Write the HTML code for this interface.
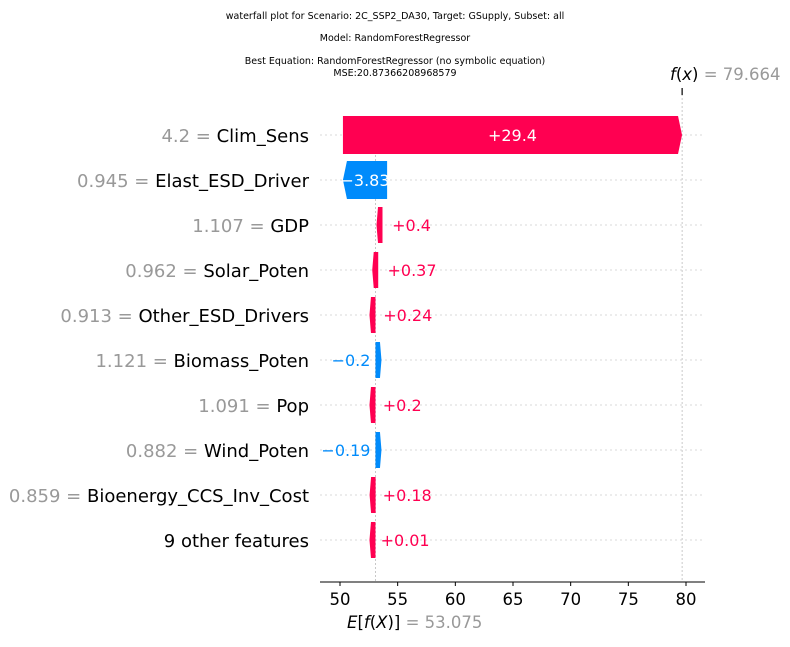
<!DOCTYPE html>
<html><head><meta charset="utf-8"><style>
body{margin:0;background:#fff;width:790px;height:642px;overflow:hidden}
svg{font-family:"DejaVu Sans","Liberation Sans",sans-serif}
</style></head><body>
<svg id="chart" width="790" height="642">
<text x="395" y="19" font-size="9.5" text-anchor="middle">waterfall plot for Scenario: 2C_SSP2_DA30, Target: GSupply, Subset: all</text>
<text x="395" y="41" font-size="9.5" text-anchor="middle">Model: RandomForestRegressor</text>
<text x="395" y="64" font-size="9.5" text-anchor="middle">Best Equation: RandomForestRegressor (no symbolic equation)</text>
<text x="395" y="76" font-size="9.5" text-anchor="middle">MSE:20.87366208968579</text>
<g id="plot"></g>
</svg>
<script>
const features=["Clim_Sens","Elast_ESD_Driver","GDP","Solar_Poten","Other_ESD_Drivers","Biomass_Poten","Pop","Wind_Poten","Bioenergy_CCS_Inv_Cost","9 other features"];
const featureValues=["4.2","0.945","1.107","0.962","0.913","1.121","1.091","0.882","0.859",""];
const shapValues=[29.4,-3.83,0.4,0.37,0.24,-0.2,0.2,-0.19,0.18,0.01];
const valueLabels=["+29.4","\u22123.83","+0.4","+0.37","+0.24","\u22120.2","+0.2","\u22120.19","+0.18","+0.01"];
const baseValue=53.075;
const fx=79.664;
const xTicks=[50,55,60,65,70,75,80];

const NS="http://www.w3.org/2000/svg";
const g=document.getElementById('plot');
const X=v=>340+(v-50)*(346/30);
const Y=i=>135+i*45;
function el(t,a,txt){const e=document.createElementNS(NS,t);for(const k in a)e.setAttribute(k,a[k]);if(txt!==undefined)e.textContent=txt;g.appendChild(e);return e;}
const RED="#ff0051",BLUE="#008bfb";
features.forEach((f,i)=>{
  const l=el('line',{x1:320,x2:705,y1:Y(i),y2:Y(i),stroke:'#ccc','stroke-dasharray':'2,3','stroke-width':0.8});
  
  
});
let vl=el('line',{x1:X(baseValue),x2:X(baseValue),y1:155,y2:582,stroke:'#bbb','stroke-dasharray':'2,2','stroke-width':0.8});

vl=el('line',{x1:X(fx),x2:X(fx),y1:90,y2:582,stroke:'#bbb','stroke-dasharray':'2,2','stroke-width':0.8});

el('line',{x1:X(fx),x2:X(fx),y1:88,y2:95,stroke:'#000','stroke-width':1.2});
let cum=baseValue;const starts=[];
for(let i=features.length-1;i>=0;i--){starts[i]=cum;cum+=shapValues[i];}
const H=19,HL=6;
features.forEach((f,i)=>{
  const v=shapValues[i],x0=X(starts[i]),x1=X(starts[i]+v),y=Y(i);
  const s=v>=0?1:-1,w=Math.abs(x1-x0),col=v>=0?RED:BLUE;
  let pts;
  if(w>HL*2){
    const hl=4,b=x1-s*hl;
    pts=[[x0,y-H],[b,y-H],[x1,y],[b,y+H],[x0,y+H]];
  }else if(v>=0){
    const fl=x0,t=x0-HL;
    pts=[[fl,y-H+1],[t+1.5,y-H+1],[t,y],[t+1.5,y+H-1],[fl,y+H-1]];
  }else{
    const fl=x1,t=x1+HL;
    pts=[[fl,y-H+1],[t-1.5,y-H+1],[t,y],[t-1.5,y+H-1],[fl,y+H-1]];
  }
  const p=el('polygon',{points:pts.map(q=>q.join(',')).join(' '),fill:col});
  
  
  let t;
  if(w>30){
    t=el('text',{x:(x0+x1)/2,y:y+6,'font-size':16,fill:'#fff','text-anchor':'middle'},valueLabels[i]);
  }else if(v>=0){
    t=el('text',{x:x1+5,y:y+6,'font-size':16,fill:col},valueLabels[i]);
  }else{
    t=el('text',{x:x1-5,y:y+6,'font-size':16,fill:col,'text-anchor':'end'},valueLabels[i]);
  }
  
  
  const lab=el('text',{x:309,y:y+7,'font-size':18,'text-anchor':'end'});
  
  
  if(featureValues[i]){const a=document.createElementNS(NS,'tspan');a.setAttribute('fill','#999');a.textContent=featureValues[i]+' = ';lab.appendChild(a);}
  const b=document.createElementNS(NS,'tspan');b.setAttribute('fill','#000');b.textContent=f;lab.appendChild(b);
});
const ax=el('line',{x1:320,x2:705,y1:582,y2:582,stroke:'#000','stroke-width':1});

xTicks.forEach(v=>{
  el('line',{x1:X(v),x2:X(v),y1:582,y2:586,stroke:'#000'});
  const t=el('text',{x:X(v),y:605,'font-size':16.5,'text-anchor':'middle'},v);
  
  
});
const ef=el('text',{x:347,y:628,'font-size':16.5});

ef.innerHTML='<tspan font-style="italic">E</tspan>[<tspan font-style="italic">f</tspan>(<tspan font-style="italic">X</tspan>)] <tspan fill="#999">= '+baseValue+'</tspan>';
const fl=el('text',{x:670,y:80,'font-size':16.5});

fl.innerHTML='<tspan font-style="italic">f</tspan>(<tspan font-style="italic">x</tspan>) <tspan fill="#999">= '+fx+'</tspan>';
</script>
</body></html>
